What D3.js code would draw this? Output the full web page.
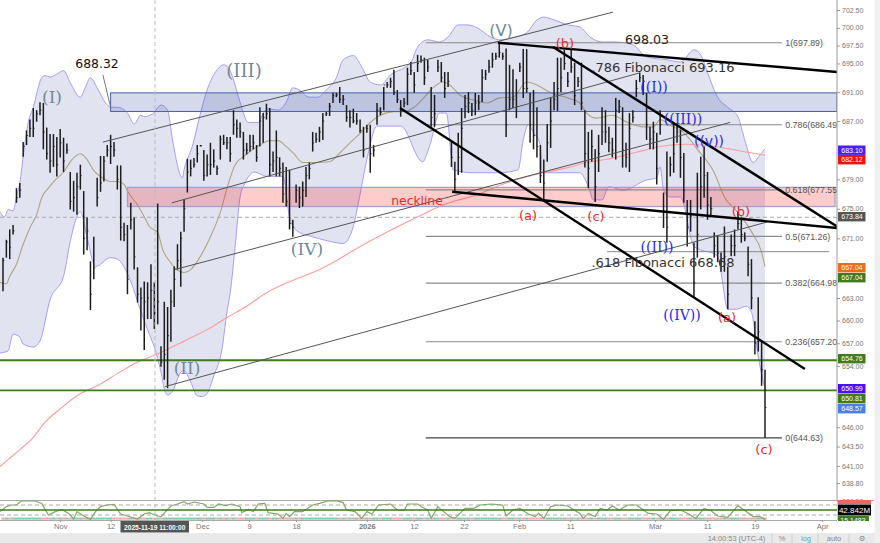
<!DOCTYPE html>
<html>
<head>
<meta charset="utf-8">
<script src="https://cdn.jsdelivr.net/npm/d3@7/dist/d3.min.js"></script>
<style>
  html, body { margin: 0; padding: 0; background: #fff; }
  svg { display: block; font-family: "DejaVu Sans", sans-serif; }
</style>
</head>
<body>
<svg id="chart" width="880" height="543"></svg>
<script>
// bar highs, one row per ten bars
var highs = [
  668.4,670.8,672.2,672.8,677.8,678.5,684.1,685.7,687.2,688.8,
  688.5,689.6,689.5,686.1,685.2,685.2,684.8,685.9,684.7,683.9,
  680.0,678.8,679.9,681.0,677.4,673.8,667.9,671.2,679.2,682.2,
  682.2,683.7,685.1,684.1,680.9,680.9,673.1,672.8,675.8,673.8,
  667.1,664.4,665.2,665.1,667.5,665.1,675.7,656.6,662.5,661.8,
  664.1,667.2,670.2,671.9,676.3,681.8,681.7,681.9,683.7,683.7,
  683.0,682.4,684.0,683.1,680.9,685.0,685.1,684.8,684.8,688.5,
  687.2,686.8,685.5,684.0,685.1,685.1,683.7,688.9,688.1,689.4,
  688.8,682.8,685.7,682.0,681.3,680.7,680.3,673.5,678.3,678.0,
  678.7,680.7,681.3,685.5,685.4,686.2,688.1,688.3,689.5,690.9,
  690.9,691.7,690.6,689.2,688.5,688.7,688.1,687.2,686.2,686.5,
  686.5,683.7,689.5,688.9,691.7,692.4,693.0,694.1,691.3,689.9,
  690.2,694.4,695.2,693.8,696.2,696.1,695.8,695.5,691.7,690.6,
  695.5,695.2,693.8,693.8,684.1,681.4,685.4,688.8,690.6,691.0,
  689.5,690.9,690.6,694.2,694.1,695.5,696.5,696.5,697.89,696.5,
  697.1,694.8,694.2,692.8,695.1,697.0,697.0,690.9,691.3,688.9,
  683.7,681.7,686.6,690.2,692.4,695.8,695.8,696.9,693.8,697.0,
  695.1,693.1,695.1,688.5,685.5,685.8,683.1,685.1,688.9,688.5,
  686.2,684.7,690.2,689.9,688.9,684.0,688.1,688.5,692.7,693.7,
  693.4,690.9,686.2,686.9,685.4,688.5,677.2,682.8,682.1,686.8,
  686.5,685.8,682.6,676.2,676.2,670.4,679.9,682.1,683.5,680.0,
  676.6,671.8,671.4,669.1,672.6,667.2,671.5,672.2,674.6,673.8,
  671.8,669.9,668.2,659.9,663.1,657.2,653.5
];

// bar lows
var lows = [
  663.9,668.4,668.2,671.5,675.8,676.5,682.1,683.7,684.8,684.8,
  686.9,687.8,683.1,681.7,679.9,680.7,679.4,682.0,680.0,682.5,
  674.9,674.6,674.2,677.6,668.8,669.4,661.4,665.5,675.3,677.3,
  678.7,682.1,681.1,682.1,677.6,670.7,670.6,663.5,672.2,666.8,
  662.4,658.7,656.1,660.2,660.2,658.9,659.5,653.9,652.2,651.1,
  657.2,661.8,666.8,664.5,671.9,677.2,679.4,680.6,681.3,683.5,
  678.8,679.4,679.6,680.6,679.6,681.7,683.7,683.1,681.4,685.1,
  684.7,684.7,681.7,682.4,682.8,683.1,681.4,683.5,684.0,687.2,
  679.4,680.0,679.4,679.4,675.8,675.3,672.2,671.2,675.8,675.1,
  675.3,676.6,679.0,682.8,684.0,684.1,684.4,687.7,687.7,689.5,
  690.3,689.5,689.2,686.9,686.1,686.7,686.5,685.4,682.0,685.4,
  679.9,682.1,686.5,687.8,688.5,691.6,691.6,690.6,689.5,687.6,
  688.9,689.2,693.4,690.9,693.8,695.1,692.0,693.8,686.2,686.2,
  693.8,692.4,690.2,691.7,680.7,677.2,679.6,679.9,687.4,688.1,
  687.7,687.8,688.5,689.6,692.7,693.7,694.4,695.5,695.8,695.5,
  684.8,688.5,688.8,687.4,693.8,690.2,690.9,684.0,683.1,682.0,
  678.5,676.2,681.4,683.3,688.5,688.4,691.0,694.1,691.7,693.7,
  689.2,691.7,688.5,680.6,677.8,681.4,675.9,680.0,683.7,684.0,
  682.7,682.0,681.7,688.1,680.6,680.6,680.0,686.8,690.3,692.4,
  690.6,684.4,683.1,683.1,678.3,685.1,672.4,670.4,679.4,679.9,
  684.0,679.2,675.8,669.9,671.9,663.1,668.4,674.9,676.5,673.5,
  673.9,668.4,667.8,666.5,666.5,661.5,668.6,668.6,672.2,670.4,
  670.6,665.9,661.5,655.5,655.9,651.4,644.63
];

// bar closes
var closes = [
  668.0,670.5,669.8,672.0,676.5,677.5,683.5,685.0,686.0,686.0,
  688.0,688.5,685.5,682.5,681.5,683.5,681.0,684.0,681.5,683.0,
  676.0,676.5,678.0,679.5,671.0,672.0,663.5,667.0,676.5,678.5,
  681.5,683.0,683.5,683.0,679.0,672.5,671.5,665.5,673.5,668.5,
  663.5,663.0,662.5,663.0,664.0,661.0,662.5,654.5,655.5,658.0,
  662.5,665.5,668.0,671.0,675.0,680.0,680.5,681.0,682.5,683.6,
  679.5,681.0,681.0,681.5,680.5,684.5,684.0,684.0,682.5,686.5,
  686.0,685.5,683.0,683.0,683.5,684.0,682.0,687.0,687.5,688.0,
  681.0,681.5,682.0,680.5,677.0,676.0,673.0,672.5,677.5,676.5,
  677.5,679.5,680.5,684.0,684.5,685.5,687.0,688.0,689.0,690.5,
  690.6,690.0,690.0,687.5,687.5,687.0,687.0,685.7,683.0,686.0,
  682.5,683.0,688.5,688.2,692.0,692.0,692.5,691.0,690.0,688.5,
  689.5,693.5,694.0,692.0,695.0,695.5,693.0,694.5,687.5,688.0,
  694.5,693.0,691.5,692.5,682.0,679.0,682.0,686.0,689.0,689.5,
  688.5,689.5,689.5,693.0,693.5,694.5,695.5,696.0,696.5,696.0,
  686.5,690.0,690.0,689.0,694.5,691.5,691.5,686.5,685.0,683.5,
  679.5,678.5,684.0,687.0,690.0,691.5,693.0,695.0,692.5,694.5,
  690.5,692.5,689.5,682.5,680.5,683.5,678.0,682.5,685.5,685.5,
  684.0,683.0,688.5,689.0,683.0,682.0,686.0,687.5,691.5,693.0,
  692.5,686.5,684.5,685.5,680.5,686.5,674.5,672.5,681.0,682.5,
  685.5,682.0,677.5,672.5,674.0,665.0,671.5,678.0,679.5,675.5,
  675.0,670.0,669.0,668.0,668.5,663.5,670.0,670.0,673.0,671.5,
  671.0,667.5,663.0,657.0,658.5,653.5,648.57
];

// bollinger upper band: bar number and price
var upperBar = [-1,0.5,1.5,3,4,5,6,7.5,9,11.5,12.5,14,16,18,20,23,24.5,26,28,30.5,32,34,37,39,41,42,44.5,47,49,50.5,53.5,54,56.5,59,61,64,66,67.5,69,71,73.5,76.5,78,79.5,82.5,85,87,89,92,94.5,97,100,102,105,107.5,110,113,116,122,124,127,130.5,133,136,138.5,141.5,145.5,148,152,156,159,161,164,168,171.5,174.5,178,182,187,191,197,201,205,207,209,212,215,218,220,222.5,224,226];
var upperVal = [674.6,673.9,674.9,674.7,676.6,678.5,682.1,686.8,688.9,693.0,693.3,693.1,693.5,694.0,692.3,690.3,691.7,693.0,691.6,689.5,688.9,688.9,688.1,686.6,687.8,687.6,688.0,689.2,688.5,684.4,679.2,680.3,683.5,688.1,691.3,694.1,694.8,694.4,692.7,689.6,686.8,686.8,688.1,688.7,688.5,689.6,691.6,691.3,690.3,690.3,691.3,693.0,695.5,696.1,694.5,692.4,692.0,693.4,695.1,697.3,698.3,698.0,698.7,700.4,700.4,700.0,698.7,698.3,698.6,699.3,701.1,701.5,701.1,700.4,700.1,698.7,698.0,698.0,697.6,695.9,695.5,695.2,696.9,696.2,693.7,690.3,688.9,687.6,684.4,681.3,682.0,683.2];

// bollinger lower band
var lowerBar = [-1,1.5,3,5,6,9,11,14,18,20,23,25,27.5,32,34,38,41,43.5,45,47,48,49,50.5,53,54,56,58,59.5,61,63,65.5,67,68,69.5,71,72.5,75.5,79,84,86,87,89,93,98,102,105,106.5,109,112,119,125.5,127.5,130.5,132.5,134.5,140.5,148,153.5,155,156.5,158,160,160.5,171.5,174,175.5,178,180,184,191,194,195,196,198,201,205,212,213,215,217.5,220.5,222,224,226];
var lowerVal = [655.7,656.0,658.2,657.8,656.9,656.5,657.3,662.8,665.9,670.6,674.6,671.1,667.2,668.4,668.2,665.2,661.2,658.2,656.5,653.2,651.0,650.2,650.7,653.2,653.4,651.9,650.1,650.0,650.4,652.7,656.2,661.1,663.7,669.9,676.6,678.5,680.0,679.4,679.4,673.9,672.6,671.8,671.2,670.6,670.3,672.6,675.8,681.7,686.3,686.3,681.4,683.5,688.1,688.1,680.3,679.9,679.9,680.3,684.4,686.5,685.4,683.7,679.9,679.9,678.0,676.2,676.2,678.0,677.5,678.9,679.2,680.7,677.5,676.6,676.6,669.9,668.6,666.4,661.5,661.5,661.9,661.1,655.2,651.0];

// bollinger middle line
var midBar = [-1,1,2,4,6,8,10,11.5,13.5,15.5,18,20.5,23,25,27,29,32,34,36,37,40,42,43.5,46,47.5,50,52,54,56,59,62,65,67.5,69.5,72,74,77,80,82.5,85,87.5,90,94,98,101,104,107.5,110,113,117,120,123,126,128.5,131.5,133.5,136.5,140.5,144.5,148,152,156,159,163,168,171.5,173.5,176.5,181,185.5,190,193,195,198,202,206,211,214,218,222,225,226];
var midVal = [665.1,664.9,665.9,667.5,670.2,672.4,674.2,676.5,677.8,678.9,680.0,681.7,682.5,681.7,680.2,679.4,678.7,678.7,678.3,677.4,675.5,673.9,672.6,671.8,669.5,667.7,666.7,666.4,666.8,668.6,671.2,674.5,678.5,681.0,682.1,682.8,683.7,684.3,684.3,683.5,682.4,681.3,681.3,681.4,682.6,684.0,685.5,686.8,687.8,688.3,688.3,688.9,690.3,691.6,692.4,692.0,690.6,689.9,689.5,690.2,690.3,692.4,692.0,690.9,690.2,689.5,688.1,687.4,687.8,686.8,686.2,686.2,687.2,686.4,685.4,683.1,679.9,676.6,674.5,671.9,669.1,667.2];

// long moving average
var maBar = [-1,2,5,9,12,17,23,28,34,39,46,49,55,61,67,73,79,85,89,95,109,124,131.5,141.5,150,158,168,173.5,179,188,195,203,211,221,226];
var maVal = [640.9,642.0,643.1,644.7,646.4,648.4,650.4,651.4,653.0,654.3,655.6,656.2,657.5,658.8,660.4,661.9,663.7,665.0,665.7,666.8,670.4,673.9,675.5,676.9,678.5,679.6,680.6,681.3,681.7,682.7,683.5,683.8,683.5,682.7,682.3];

// lower panel oscillator
var oscBar = [-1,1,2.5,4,5.5,7.5,9.5,11.5,13.5,15.5,17.5,19.5,21,22,24,26,27.5,29,31,33,35,37,40,42,43.5,46,47,50,52,54,55,57,60,61,63,64.5,66.5,68.5,71,71.5,73.5,75,76.5,78.5,79.5,82.5,84,85,86,87.5,90,93,95,97.5,100,102,103,105.5,107.5,109,110.5,112.5,116,118,120,121,124,125,127,128,130,
  130.5,133.5,135,138,140.5,142.5,145.5,149,150,152,154,156.5,158.5,159.5,161,163,165,168,171.5,172.5,174,176,177.5,179.5,181,183,185.5,188,191.5,194,196,198,201,203.5,205.5,208,210,212,215,218,220,222.5,224.5,226];
var oscVal = [42,67,75,75,95,95,95,83,25,42,53,33,5,42,20,3,42,67,75,78,30,20,5,30,37,20,17,70,80,92,80,90,80,63,63,80,72,80,67,37,53,42,80,83,37,30,8,33,17,42,42,75,83,95,97,87,50,42,8,42,30,75,80,50,47,80,80,67,50,8,67,
  58,17,8,58,58,75,80,75,20,50,58,30,17,33,8,67,75,70,33,8,33,17,58,50,70,50,75,75,33,30,3,47,50,30,8,58,47,20,13,72,47,17,17,3];

// key levels
var fibLevels = [697.89, 686.49, 677.55, 671.26, 664.98, 657.20, 644.63];
var fibLabels = ["1(697.89)", "0.786(686.49", "0.618(677.55", "0.5(671.26)", "0.382(664.98", "0.236(657.20", "0(644.63)"];
var greenLevels = [654.76, 650.81];
var blueZone = [688.32, 690.9];
var redZone = [675.3, 677.9];

// thin channel lines and heavy trend lines: bar, price, bar, price
var channelLines = [
  [29.7, 684.1, 181.2, 702.2],
  [50.3, 675.8, 189.1, 693.7],
  [51.2, 666.8, 215.7, 686.8],
  [48.2, 651.3, 226.6, 673.2]
];
var trendLines = [
  [147.6, 697.89, 247.3, 693.8],
  [118.8, 688.8, 237.8, 653.6],
  [134.2, 677.3, 247.3, 672.4],
  [163.7, 697.3, 247.3, 672.6]
];

// axis ticks
var priceTicks = [702.5, 700, 697.5, 695, 691, 687, 679, 675, 671, 663, 660, 657, 654, 646, 643.5, 641, 638.8, 636.5];
var timeTicks = [17, 32, 59.5, 73.7, 88, 109, 122.9, 137.7, 153.8, 168.7, 193.5, 208.9, 223, 242.9];
var timeLabels = ["Nov", "12", "Dec", "9", "18", "2026", "12", "22", "Feb", "11", "Mar", "11", "19", "Apr"];

var svg = d3.select("#chart");
var smallFont = '"Liberation Sans", sans-serif';

// the time axis skips closed hours, so bar spacing is not quite even
var x = d3.scaleLinear()
  .domain([0, 46, 92, 138, 192, 226])
  .range([3, 157.7, 309.3, 465, 650, 765]);

var y = d3.scaleLog()
  .domain([636.5, 702.5])
  .range([501, 10]);

var osc = d3.scaleLinear()
  .domain([0, 100])
  .range([520, 500]);

svg.append("defs").append("clipPath").attr("id", "plot")
  .append("rect").attr("width", 837).attr("height", 500);

var plot = svg.append("g").attr("clip-path", "url(#plot)");

// make a line from two parallel lists
function bandPoints(bars, vals) {
  return bars.map(function(b, i) { return [x(b), y(vals[i])]; });
}
var curve = d3.line().curve(d3.curveMonotoneX);

var upperPts = bandPoints(upperBar, upperVal);
var lowerPts = bandPoints(lowerBar, lowerVal);

// band fill
plot.append("path")
  .attr("d", curve(upperPts) + "L" + curve(lowerPts.slice().reverse()).slice(1) + "Z")
  .attr("fill", "#8286be")
  .attr("fill-opacity", 0.23);

plot.selectAll(".bandLine")
  .data([upperPts, lowerPts])
  .join("path")
  .attr("d", curve)
  .attr("fill", "none")
  .attr("stroke", "#a99cf2")
  .attr("stroke-width", 1);

plot.append("path")
  .attr("d", curve(bandPoints(midBar, midVal)))
  .attr("fill", "none")
  .attr("stroke", "#b0a57f")
  .attr("stroke-width", 1.1);

plot.append("path")
  .attr("d", curve(bandPoints(maBar, maVal)))
  .attr("fill", "none")
  .attr("stroke", "#ff9c9c")
  .attr("stroke-width", 1.1);

// zones
plot.append("rect")
  .attr("x", x(32)).attr("width", 837 - x(32))
  .attr("y", y(blueZone[1])).attr("height", y(blueZone[0]) - y(blueZone[1]))
  .attr("fill", "#3c55aa").attr("fill-opacity", 0.22)
  .attr("stroke", "#4a62a8").attr("stroke-width", 1);

plot.append("rect")
  .attr("x", x(37)).attr("width", 835 - x(37))
  .attr("y", y(redZone[1])).attr("height", y(redZone[0]) - y(redZone[1]))
  .attr("fill", "#ff0000").attr("fill-opacity", 0.2)
  .attr("stroke", "#9da3cc").attr("stroke-width", 1.3);

// crosshair
plot.append("line")
  .attr("x1", 0).attr("x2", 837)
  .attr("y1", y(673.84)).attr("y2", y(673.84))
  .attr("stroke", "#aaa").attr("stroke-dasharray", "4 3");

// fibonacci lines and labels
plot.selectAll(".fib")
  .data(fibLevels)
  .join("line")
  .attr("x1", x(126.4)).attr("x2", x(231))
  .attr("y1", d => y(d)).attr("y2", d => y(d))
  .attr("stroke", (d, i) => i == 6 ? "#444" : "#8a8a8a")
  .attr("stroke-width", 1.2);

plot.append("line")
  .attr("x1", x(179.5)).attr("x2", x(245))
  .attr("y1", y(669.2)).attr("y2", y(669.2))
  .attr("stroke", "#8a8a8a").attr("stroke-width", 1);

plot.selectAll(".fibLabel")
  .data(fibLevels)
  .join("text")
  .attr("x", x(232))
  .attr("y", d => y(d) + 3.2)
  .attr("font-size", 8.8)
  .attr("font-family", smallFont)
  .attr("fill", "#555")
  .text((d, i) => fibLabels[i]);

// green levels
plot.selectAll(".green")
  .data(greenLevels)
  .join("line")
  .attr("x1", 0).attr("x2", 837)
  .attr("y1", d => y(d)).attr("y2", d => y(d))
  .attr("stroke", "#3f7a1e").attr("stroke-width", 1.8);

// price bars
var bars = plot.append("g").attr("stroke", "#1c1c1c");
bars.selectAll(".hl")
  .data(highs)
  .join("line")
  .attr("x1", (d, i) => x(i)).attr("x2", (d, i) => x(i))
  .attr("y1", d => y(d))
  .attr("y2", (d, i) => y(lows[i]))
  .attr("stroke-width", 1.5);
bars.selectAll(".cl")
  .data(closes)
  .join("line")
  .attr("x1", (d, i) => x(i)).attr("x2", (d, i) => x(i) + 1.4)
  .attr("y1", d => y(d)).attr("y2", d => y(d))
  .attr("stroke-width", 0.9);

// channel and trend lines
plot.selectAll(".channel")
  .data(channelLines)
  .join("line")
  .attr("x1", d => x(d[0])).attr("y1", d => y(d[1]))
  .attr("x2", d => x(d[2])).attr("y2", d => y(d[3]))
  .attr("stroke", "#555").attr("stroke-width", 1);

plot.selectAll(".trend")
  .data(trendLines)
  .join("line")
  .attr("x1", d => x(d[0])).attr("y1", d => y(d[1]))
  .attr("x2", d => x(d[2])).attr("y2", d => y(d[3]))
  .attr("stroke", "#000").attr("stroke-width", 2.4);

// leader of the 688.32 note
plot.append("line")
  .attr("x1", x(29.7)).attr("y1", y(693.4))
  .attr("x2", x(32)).attr("y2", y(688.9))
  .attr("stroke", "#666").attr("stroke-width", 0.9);

// small helper for the notes on the chart
function note(str, px, py, size, color, family) {
  plot.append("text")
    .attr("x", px).attr("y", py)
    .attr("text-anchor", "middle")
    .attr("dominant-baseline", "central")
    .attr("font-size", size)
    .attr("font-family", family || null)
    .attr("fill", color)
    .text(str);
}

var serif = '"DejaVu Serif", serif';
note("(I)", 52, 97, 17, "#71899a", serif);
note("(III)", 244, 70, 18, "#71899a", serif);
note("(II)", 187, 368, 17, "#71899a", serif);
note("(IV)", 307, 249, 17, "#71899a", serif);
note("(V)", 501, 30, 16, "#71899a");

note("(b)", 565, 43, 13, "#f02a2a");
note("(a)", 528, 215, 13, "#f02a2a");
note("(c)", 596, 216, 13, "#f02a2a");
note("(b)", 741, 211, 13, "#f02a2a");
note("(a)", 727, 317, 13, "#f02a2a");
note("(c)", 764, 449, 13, "#f02a2a");
note("neckline", 417, 201, 12.3, "#f02a2a");

note("((I))", 654, 87, 14, "#2a2af0", serif);
note("((III))", 683, 119, 14, "#2a2af0", serif);
note("((v))", 709, 141, 14, "#2a2af0");
note("((II))", 657, 247, 14, "#2a2af0", serif);
note("((IV))", 682, 315, 14, "#2a2af0", serif);

note("688.32", 97, 63, 12.4, "#111");
note("698.03", 647, 39, 12.6, "#222");
note(".786 Fibonacci 693.16", 663, 67, 13, "#333");
note(".618 Fibonacci 668.68", 663, 262, 13, "#333");

// right price axis
var yAxis = d3.axisRight(y)
  .tickValues(priceTicks)
  .tickFormat(d3.format(".2f"))
  .tickSize(3);

var yAxisG = svg.append("g")
  .attr("transform", "translate(837,0)")
  .call(yAxis);
yAxisG.select(".domain").remove();
yAxisG.selectAll("line").attr("stroke", "#999");
yAxisG.selectAll("text")
  .attr("font-size", 7)
  .attr("font-family", smallFont)
  .attr("fill", "#777")
  .attr("x", 5);

svg.append("line")
  .attr("x1", 837).attr("x2", 837).attr("y1", 0).attr("y2", 520)
  .attr("stroke", "#999");

// lower panel
var lower = svg.append("g");
lower.append("rect")
  .attr("x", 0).attr("y", 501).attr("width", 837).attr("height", 19)
  .attr("fill", "#fff");
lower.append("line")
  .attr("x1", 0).attr("x2", 874).attr("y1", 500.5).attr("y2", 500.5)
  .attr("stroke", "#aaa");

lower.selectAll(".dash")
  .data([75, 25])
  .join("line")
  .attr("x1", 0).attr("x2", 837)
  .attr("y1", d => osc(d)).attr("y2", d => osc(d))
  .attr("stroke", "#aaa").attr("stroke-dasharray", "4 3");

// histogram strip, coloured from the closes
lower.selectAll(".strip")
  .data(closes)
  .join("rect")
  .attr("x", (d, i) => x(i) - 1.7)
  .attr("y", 517.6)
  .attr("width", 3.4)
  .attr("height", 2)
  .attr("fill", (d, i) => i > 0 && d >= closes[i - 1] ? "#78cba8" : "#f1a7a7");

lower.append("path")
  .attr("d", d3.line()(oscBar.map((b, i) => [Math.max(0, x(b)), osc(oscVal[i])])))
  .attr("fill", "none")
  .attr("stroke", "#7fa869")
  .attr("stroke-width", 1.2);

lower.append("line")
  .attr("x1", 0).attr("x2", 837).attr("y1", 510).attr("y2", 510)
  .attr("stroke", "#3f7a1e").attr("stroke-width", 1.6);

lower.append("line")
  .attr("x1", 0).attr("x2", 837).attr("y1", 520.5).attr("y2", 520.5)
  .attr("stroke", "#aaa");

// crosshair over everything
svg.append("line")
  .attr("x1", 155).attr("x2", 155).attr("y1", 0).attr("y2", 521)
  .attr("stroke", "#bbb").attr("stroke-dasharray", "4 3");

// time axis
var xAxis = d3.axisBottom(x)
  .tickValues(timeTicks)
  .tickFormat((d, i) => timeLabels[i])
  .tickSize(2);

var xAxisG = svg.append("g")
  .attr("transform", "translate(0,520)")
  .call(xAxis);
xAxisG.select(".domain").remove();
xAxisG.selectAll("line").attr("stroke", "#999");
xAxisG.selectAll("text")
  .attr("font-size", 7.6)
  .attr("font-family", smallFont)
  .attr("font-weight", d => d == 109 ? "bold" : null)
  .attr("fill", "#777")
  .attr("y", 4);

// crosshair time box
svg.append("rect")
  .attr("x", 120.5).attr("y", 521).attr("width", 68.5).attr("height", 11.5)
  .attr("fill", "#555");
svg.append("text")
  .attr("x", 154.7).attr("y", 529.5)
  .attr("text-anchor", "middle")
  .attr("font-size", 6.6).attr("font-weight", "bold")
  .attr("font-family", smallFont)
  .attr("fill", "#fff")
  .text("2025-11-19 11:00:00");

// price flags on the axis
var flagPrices = ["683.10", "682.12", "673.84", "667.04", "667.04", "654.76", "650.99", "650.81", "648.57"];
var flagTops = [145.5, 155, 212, 263, 273, 354, 384, 394, 404];
var flagFills = ["#4a1ff5", "#f01010", "#555555", "#f26a13", "#3f7a1e", "#3f7a1e", "#4a10f5", "#3f7a1e", "#4a7fe8"];

svg.selectAll(".flag")
  .data(flagPrices)
  .join("rect")
  .attr("x", 838).attr("width", 27.5)
  .attr("y", (d, i) => flagTops[i]).attr("height", 9.4)
  .attr("fill", (d, i) => flagFills[i]);
svg.selectAll(".flagText")
  .data(flagPrices)
  .join("text")
  .attr("x", 852).attr("y", (d, i) => flagTops[i] + 7.3)
  .attr("text-anchor", "middle")
  .attr("font-size", 7)
  .attr("font-family", smallFont)
  .attr("fill", "#fff")
  .text(d => d);

// lower panel flags
svg.append("rect").attr("x", 838).attr("y", 500).attr("width", 33).attr("height", 4).attr("fill", "#f2675c");
svg.append("rect").attr("x", 838).attr("y", 516).attr("width", 31).attr("height", 5).attr("fill", "#3f7a1e");
svg.append("text")
  .attr("x", 853).attr("y", 523).attr("text-anchor", "middle")
  .attr("font-size", 7).attr("font-family", smallFont).attr("fill", "#fff").text("15.1483");
svg.append("rect").attr("x", 838).attr("y", 504.5).attr("width", 33).attr("height", 11).attr("fill", "#000");
svg.append("text")
  .attr("x", 854.5).attr("y", 513).attr("text-anchor", "middle")
  .attr("font-size", 8).attr("font-family", smallFont).attr("fill", "#fff").text("42.842M");

// mask under the panels, then the status bar
svg.append("rect").attr("x", 838).attr("y", 521).attr("width", 36).attr("height", 11).attr("fill", "#fff");
svg.append("rect").attr("x", 0).attr("y", 533).attr("width", 880).attr("height", 10).attr("fill", "#e9e9e9");
svg.append("rect").attr("x", 874.5).attr("y", 0).attr("width", 5.5).attr("height", 543).attr("fill", "#efefef");

var statusTexts = [
  ["14:00:53 (UTC-4)", 736.5, "#8a8a8a"],
  ["%", 782, "#8a8a8a"],
  ["log", 806, "#4aa8e0"],
  ["auto", 834, "#8a8a8a"],
  ["\u2699", 862, "#8a8a8a"]
];
svg.selectAll(".status")
  .data(statusTexts)
  .join("text")
  .attr("x", d => d[1]).attr("y", 541)
  .attr("text-anchor", "middle")
  .attr("font-size", 7.4)
  .attr("font-family", d => d[0] == "\u2699" ? null : smallFont)
  .attr("fill", d => d[2])
  .text(d => d[0]);

svg.selectAll(".sep")
  .data([772, 792, 818, 849])
  .join("line")
  .attr("x1", d => d).attr("x2", d => d)
  .attr("y1", 534).attr("y2", 543)
  .attr("stroke", "#cfcfcf");
</script>
</body>
</html>
